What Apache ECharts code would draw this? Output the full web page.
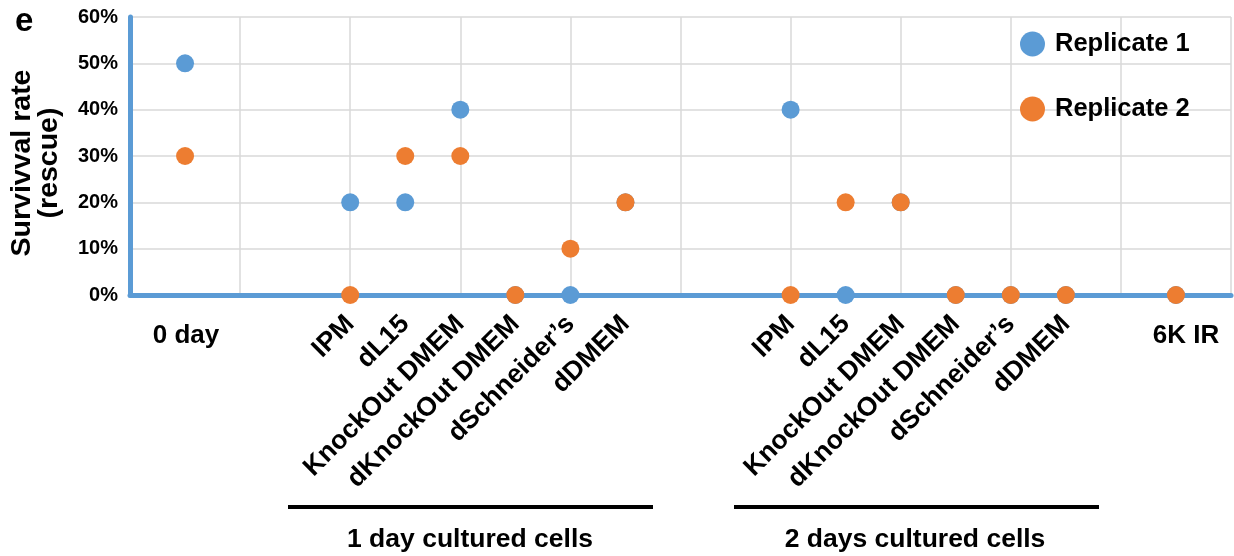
<!DOCTYPE html>
<html>
<head>
<meta charset="utf-8">
<script src="https://cdn.jsdelivr.net/npm/echarts@6/dist/echarts.min.js"></script>
<style>
html,body{margin:0;padding:0;background:#fff;}
#chart{width:1234px;height:556px;}
</style>
</head>
<body>
<div id="chart"></div>
<script>
// Category slots along the x axis (blank slots are spacing)
const slotLabels = ['', '0 day', '', '', 'IPM', 'dL15', 'KnockOut DMEM', 'dKnockOut DMEM', 'dSchneider\u2019s', 'dDMEM', '', '',
  'IPM', 'dL15', 'KnockOut DMEM', 'dKnockOut DMEM', 'dSchneider\u2019s', 'dDMEM', '', '6K IR', ''];
const flatLabels = ['0 day', '6K IR'];
// Survival rate (%) per slot
const replicate1 = [null, 50, null, null, 20, 20, 40, 0, 0, 20, null, null, 40, 0, 20, 0, 0, 0, null, 0, null];
const replicate2 = [null, 30, null, null, 0, 30, 30, 0, 10, 20, null, null, 0, 20, 20, 0, 0, 0, null, 0, null];
const seriesNames = ['Replicate 1', 'Replicate 2'];
const yTicks = [0, 10, 20, 30, 40, 50, 60];
const groupLabels = ['1 day cultured cells', '2 days cultured cells'];

const FONT = '"Liberation Sans", Arial, Helvetica, sans-serif';
const BLUE = '#5b9bd5', ORANGE = '#ed7d31';

const flatAxisData = slotLabels.map((v) => {
  if (!flatLabels.includes(v)) return { value: v, textStyle: {} };
  return v === '6K IR' ? { value: v, textStyle: { padding: [0, 0, 0, 20] } } : { value: v, textStyle: { padding: [0, 0, 0, 2] } };
});

const chart = echarts.init(document.getElementById('chart'));
chart.setOption({
  animation: false,
  textStyle: { fontFamily: FONT },
  title: {
    text: 'e', left: 10, top: 0,
    textStyle: { fontFamily: FONT, fontWeight: 'bold', fontSize: 33, color: '#000' }
  },
  legend: {
    orient: 'vertical', left: 1020, top: 31, padding: 0,
    itemWidth: 25, itemHeight: 25, itemGap: 39,
    icon: 'circle',
    data: seriesNames,
    textStyle: { fontFamily: FONT, fontWeight: 'bold', fontSize: 25.5, color: '#000', padding: [0, 0, 0, 5] }
  },
  grid: { left: 130, right: 0, top: 17, bottom: 261, containLabel: false },
  xAxis: [{
    type: 'category', data: slotLabels, boundaryGap: false,
    axisLine: { lineStyle: { color: BLUE, width: 5 } },
    axisTick: { show: false },
    splitLine: { show: true, interval: (i) => i % 2 === 0, lineStyle: { color: '#d9d9d9', width: 1.5 } },
    axisLabel: {
      interval: 0, rotate: 45, margin: 25,
      formatter: (v) => flatLabels.includes(v) ? '' : v,
      fontFamily: FONT, fontWeight: 'bold', fontSize: 26.5, color: '#000'
    }
  }, {
    type: 'category', data: flatAxisData, boundaryGap: false, position: 'bottom',
    axisLine: { show: false }, axisTick: { show: false }, splitLine: { show: false },
    axisLabel: {
      interval: 0, rotate: 0, margin: 28,
      formatter: (v) => flatLabels.includes(v) ? v : '',
      fontFamily: FONT, fontWeight: 'bold', fontSize: 26, color: '#000'
    }
  }],
  yAxis: {
    type: 'value', min: yTicks[0], max: yTicks[yTicks.length - 1], interval: 10,
    name: 'Survivval rate\n(rescue)', nameLocation: 'middle', nameGap: 67, nameRotate: 90,
    nameTextStyle: { fontFamily: FONT, fontWeight: 'bold', fontSize: 28.5, lineHeight: 27, color: '#000', padding: [0, 14, 0, 0] },
    axisLine: { show: true, lineStyle: { color: BLUE, width: 5 } },
    axisTick: { show: false },
    splitLine: { lineStyle: { color: '#d9d9d9', width: 1.5 } },
    axisLabel: { formatter: '{value}%', margin: 12, fontFamily: FONT, fontWeight: 'bold', fontSize: 20, color: '#000', padding: [6, 0, 0, 0] }
  },
  series: [{
    name: seriesNames[0], type: 'scatter', data: replicate1, symbolSize: 18,
    itemStyle: { color: BLUE, opacity: 1 }, z: 3
  }, {
    name: seriesNames[1], type: 'scatter', data: replicate2, symbolSize: 18,
    itemStyle: { color: ORANGE, opacity: 1 }, z: 4
  }],
  graphic: [
    { type: 'line', shape: { x1: 288, y1: 507, x2: 653, y2: 507 }, style: { stroke: '#000', lineWidth: 4 } },
    { type: 'line', shape: { x1: 734, y1: 507, x2: 1099, y2: 507 }, style: { stroke: '#000', lineWidth: 4 } },
    { type: 'text', x: 470, y: 540, style: { text: groupLabels[0], fill: '#000', font: 'bold 26.5px ' + FONT, textAlign: 'center', textVerticalAlign: 'middle' } },
    { type: 'text', x: 915, y: 540, style: { text: groupLabels[1], fill: '#000', font: 'bold 26.5px ' + FONT, textAlign: 'center', textVerticalAlign: 'middle' } }
  ]
});
</script>
</body>
</html>
